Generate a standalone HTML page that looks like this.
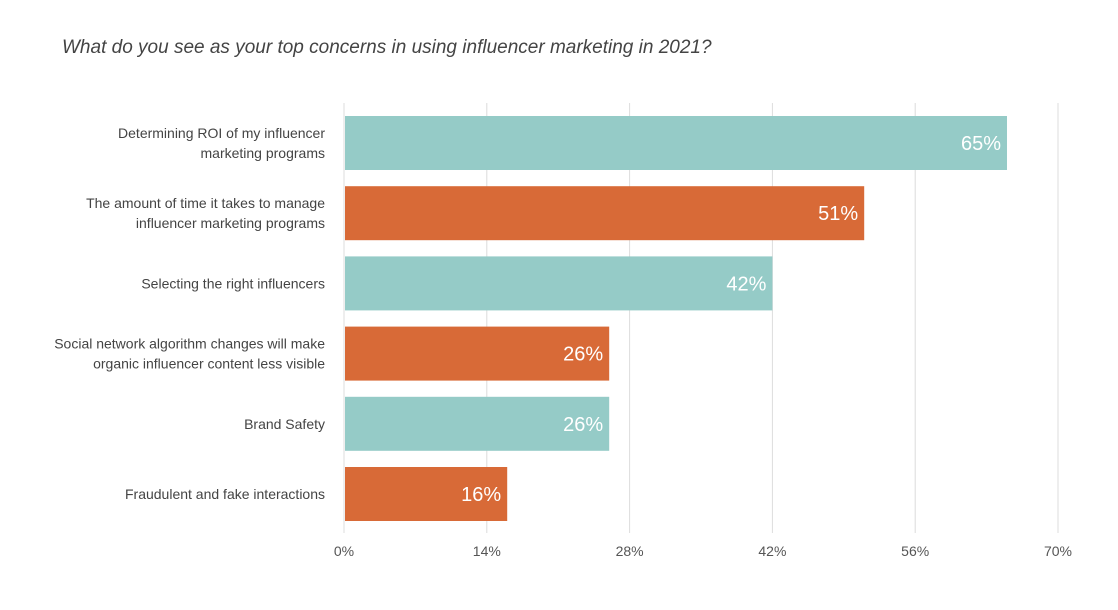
<!DOCTYPE html>
<html><head><meta charset="utf-8"><style>
body{margin:0;background:#fff;width:1118px;height:605px;overflow:hidden;font-family:"Liberation Sans",sans-serif;}
</style></head><body>
<svg width="1118" height="605" id="chart">
<text x="62" y="53" font-size="19" font-style="italic" fill="#444">What do you see as your top concerns in using influencer marketing in 2021?</text>
</svg>
<script>
const categories=[["Determining ROI of my influencer","marketing programs"],["The amount of time it takes to manage","influencer marketing programs"],["Selecting the right influencers"],["Social network algorithm changes will make","organic influencer content less visible"],["Brand Safety"],["Fraudulent and fake interactions"]];
const values=[65,51,42,26,26,16];
const tickValues=[0,14,28,42,56,70];
const colors=["#95cbc7","#d86a37"];
const svg=document.getElementById('chart');
const NS='http://www.w3.org/2000/svg';
const x0=344,xMax=1058,vMax=70;
const xs=v=>x0+(xMax-x0)*v/vMax;
const yTop=116,pitch=70.2,bh=54;
const ys=i=>yTop+i*pitch;
function mk(t,a){const e=document.createElementNS(NS,t);for(const k in a)e.setAttribute(k,a[k]);svg.appendChild(e);return e;}
tickValues.forEach(v=>{
 const l=mk('line',{x1:xs(v),x2:xs(v),y1:103,y2:533,stroke:'#dcdcdc','stroke-width':1});
 
 
 const t=mk('text',{x:xs(v),y:556,'text-anchor':'middle','font-size':14,fill:'#555'});
 t.textContent=v+'%';
 
 
});
values.forEach((v,i)=>{
 const y=ys(i);
 const r=mk('rect',{x:xs(0)+1,y:y,width:xs(v)-xs(0)-1,height:bh,fill:colors[i%2]});
 
 
 const t=mk('text',{x:xs(v)-6,y:y+bh/2+7,'text-anchor':'end','font-size':20,fill:'#fff'});
 t.textContent=v+'%';
 
 
 const lines=categories[i];
 const lt=mk('text',{x:325,'text-anchor':'end','font-size':14,fill:'#444'});
 
 
 lines.forEach((s,j)=>{
  const ts=document.createElementNS(NS,'tspan');
  ts.setAttribute('x',325);
  ts.setAttribute('y',y+bh/2+5+(j-(lines.length-1)/2)*20);
  ts.textContent=s;lt.appendChild(ts);
 });
});
</script>
</body></html>
